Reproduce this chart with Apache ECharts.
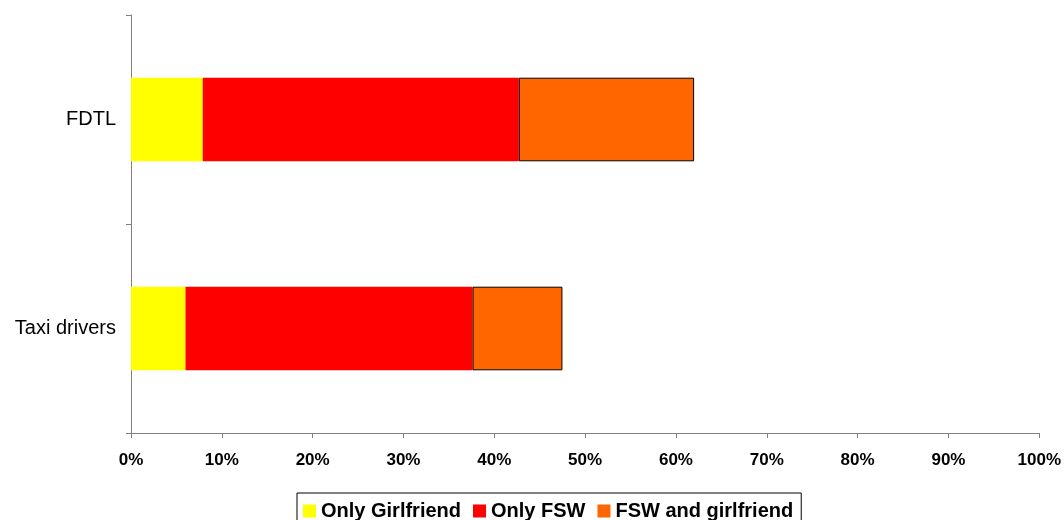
<!DOCTYPE html>
<html>
<head>
<meta charset="utf-8">
<script src="https://cdn.jsdelivr.net/npm/echarts@6/dist/echarts.min.js"></script>
<style>
html,body{margin:0;padding:0;background:#fff;}
#chart{width:1064px;height:520px;}
</style>
</head>
<body>
<div id="chart"></div>
<script>
const categories = ['Taxi drivers', 'FDTL'];
const onlyGirlfriend = [6.0, 7.9];
const onlyFSW = [31.6, 34.8];
const fswAndGirlfriend = [9.9, 19.3];
const seriesNames = ['Only Girlfriend', 'Only FSW', 'FSW and girlfriend'];

const chart = echarts.init(document.getElementById('chart'));
const font = 'Arial, "Liberation Sans", sans-serif';
chart.setOption({
  animation: false,
  backgroundColor: '#ffffff',
  grid: { left: 131, right: 24, top: 15, bottom: 87, containLabel: false },
  legend: {
    data: seriesNames,
    left: 297,
    top: 493,
    padding: [8, 8, 20, 6],
    borderColor: '#000',
    borderWidth: 1,
    itemWidth: 13,
    itemHeight: 13,
    itemGap: 12,
    itemTextGap: 6,
    icon: 'rect',
    itemStyle: { borderWidth: 0 },
    textStyle: { fontFamily: font, fontWeight: 'bold', fontSize: 20, color: '#000' }
  },
  xAxis: {
    type: 'value',
    min: 0, max: 100, interval: 10,
    axisLine: { show: true, lineStyle: { color: '#808080', width: 1 } },
    axisTick: { show: true, length: 5, lineStyle: { color: '#808080' } },
    splitLine: { show: false },
    axisLabel: { formatter: '{value}%', fontFamily: font, fontWeight: 'bold', fontSize: 17, color: '#000', margin: 19 }
  },
  yAxis: {
    type: 'category',
    data: categories,
    axisLine: { show: true, lineStyle: { color: '#808080', width: 1 } },
    axisTick: { show: true, length: 5, alignWithLabel: false, lineStyle: { color: '#808080' } },
    axisLabel: { fontFamily: font, fontSize: 20, color: '#000', margin: 15 }
  },
  series: [
    { name: seriesNames[0], type: 'bar', stack: 's', data: onlyGirlfriend, barWidth: '40%', itemStyle: { color: '#FFFF00' } },
    { name: seriesNames[1], type: 'bar', stack: 's', data: onlyFSW, barWidth: '40%', itemStyle: { color: '#FF0000' } },
    { name: seriesNames[2], type: 'bar', stack: 's', data: fswAndGirlfriend, barWidth: '40%', itemStyle: { color: '#FF6600', borderColor: '#000', borderWidth: 1 } }
  ]
});
</script>
</body>
</html>
